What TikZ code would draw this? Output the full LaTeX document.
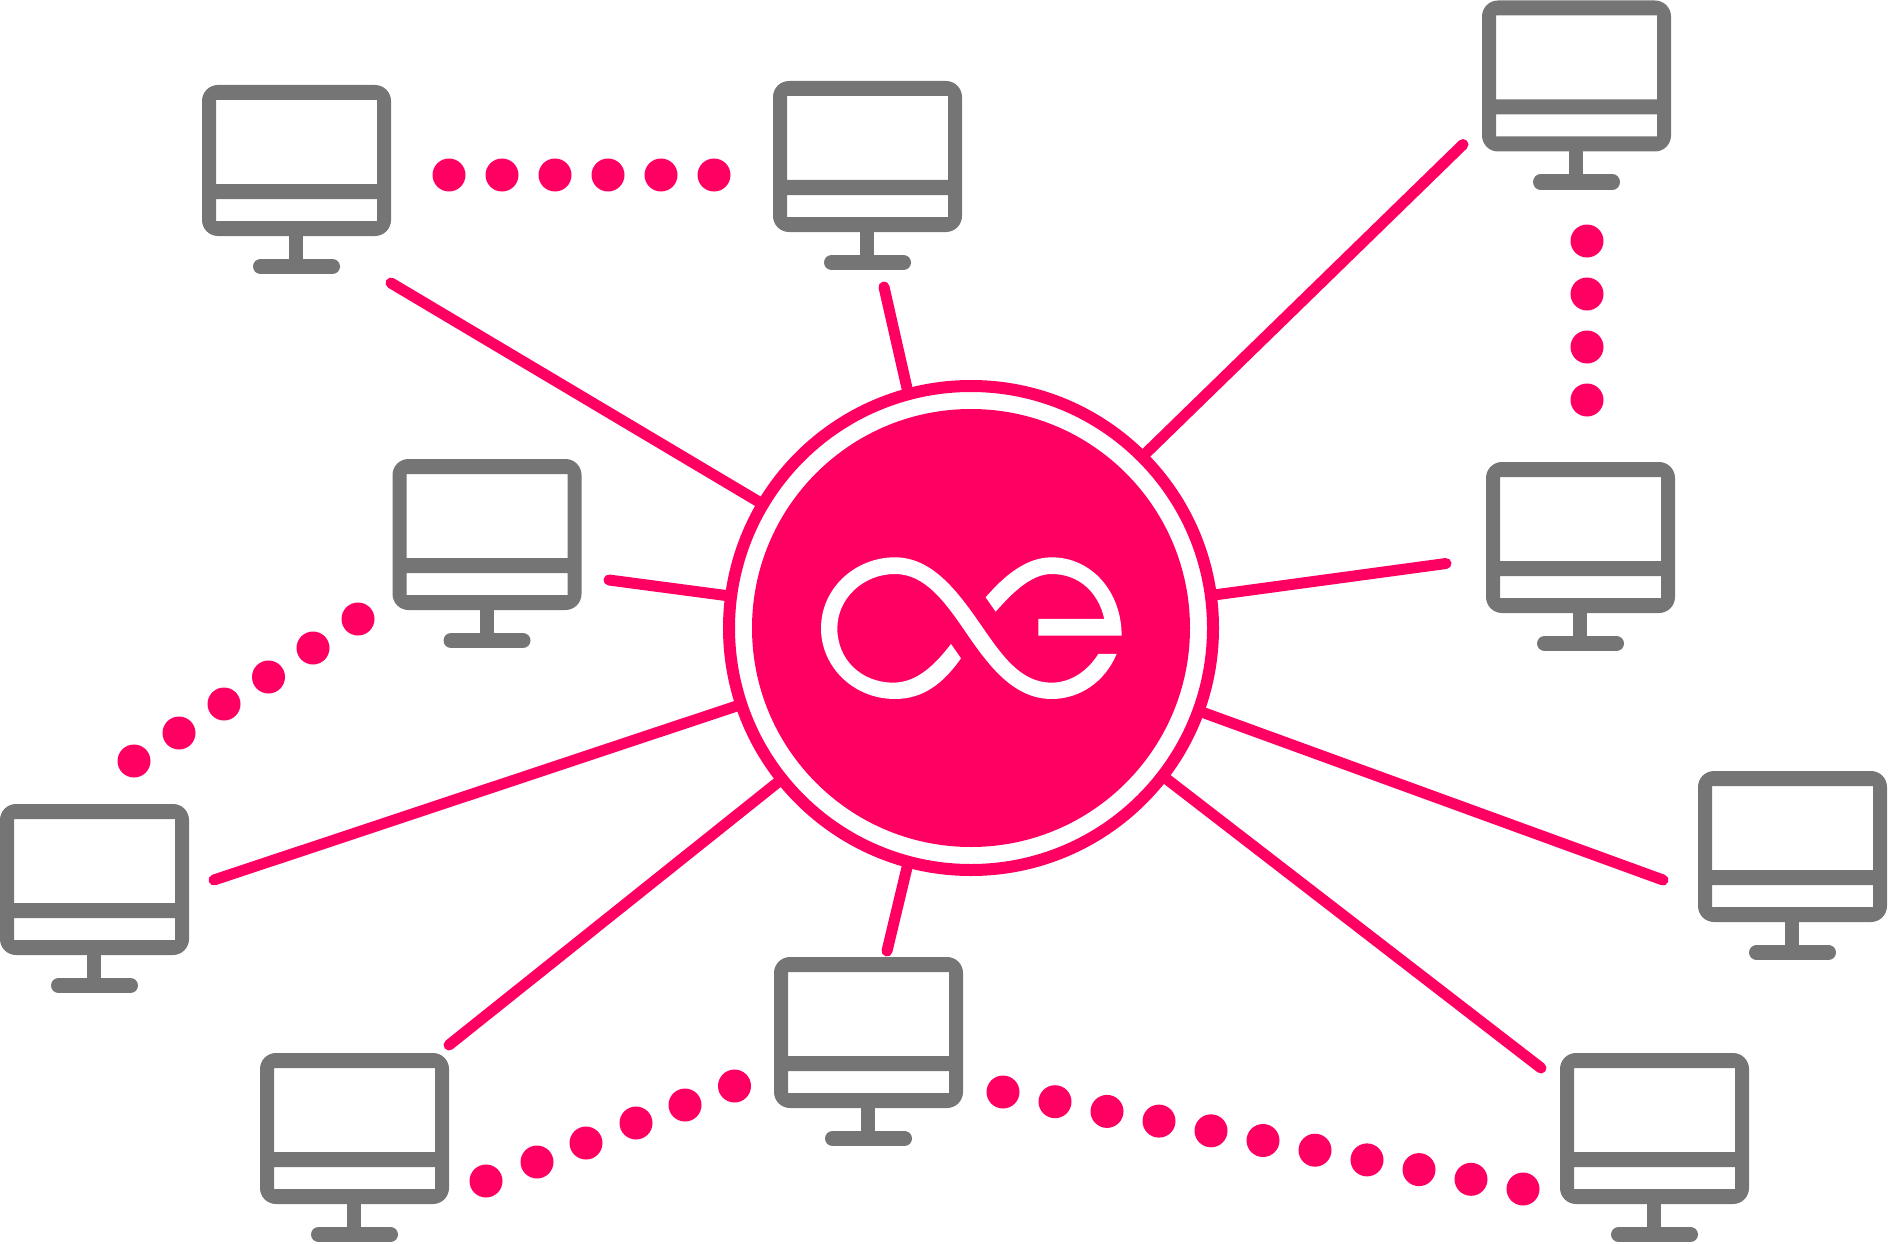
\documentclass[tikz,border=0pt]{standalone}
\usetikzlibrary{positioning}

\definecolor{aepink}{HTML}{FF0062}
\definecolor{aegray}{HTML}{757575}

\tikzset{
  monitor/.pic={
    \fill [aegray,even odd rule,rounded corners=16] (0,0) rectangle (189,151)
      [sharp corners] (14,15) rectangle (175,99) (14,114) rectangle (175,136);
    \fill [aegray] (87,150) rectangle (101,176);
    \draw [aegray,line width=15pt,line cap=round] (58.5,181.5) -- (130.5,181.5);
  },
  spoke/.style={aepink,line width=11pt,line cap=round},
  dotnode/.style={circle,fill=aepink,inner sep=0pt,minimum size=33pt},
  hub/.style={circle,draw=aepink,line width=12pt,fill=white,inner sep=0pt,outer sep=0pt,minimum size=484pt},
  hubcore/.style={circle,fill=aepink,inner sep=0pt,minimum size=438pt},
}

\begin{document}
\begin{tikzpicture}[x=1pt,y=-1pt]
\useasboundingbox (0,0) rectangle (1888,1244);

% monitors
\pic at (202,85) {monitor};
\pic at (773,81) {monitor};
\pic at (1482,0.5) {monitor};
\pic at (392.5,459) {monitor};
\pic at (1486,462) {monitor};
\pic at (1698,771) {monitor};
\pic at (0,804) {monitor};
\pic at (774,957) {monitor};
\pic at (260,1053) {monitor};
\pic at (1560,1053) {monitor};

% hub with spokes
\node [hub] (hub) at (971,628) {};
\coordinate (endA) at (391,283);
\coordinate (endB) at (884,287);
\coordinate (endC) at (1463,144.5);
\coordinate (endD) at (609,580);
\coordinate (endE) at (1446,563.5);
\coordinate (endF) at (1663,880);
\coordinate (endG) at (214,880);
\coordinate (endH) at (887,951);
\coordinate (endI) at (449,1045);
\coordinate (endJ) at (1541,1068);
\foreach \e in {A,D,E,F,G,I,J}
  \draw [spoke] (hub) -- (end\e);
\draw [spoke] (hub.105) -- (endB);
\draw [spoke] (hub.45) -- (endC);
\draw [spoke] (hub.255) -- (endH);
\node [hubcore] (core) at (hub) {};

% logo
\begin{scope}[shift={(780,520)},x=0.3333pt,y=-0.3333pt]
  \fill [white] (543,415) .. controls (490,490) and (430,537) .. (345,537)
    .. controls (220,537) and (123,440) .. (123,325)
    .. controls (123,205) and (225,112) .. (345,112)
    .. controls (455,112) and (530,210) .. (600,311)
    .. controls (665,405) and (720,488) .. (815,488)
    .. controls (875,488) and (925,450) .. (955,402)
    -- (1010,402)
    .. controls (975,485) and (900,537) .. (815,537)
    .. controls (700,537) and (625,435) .. (559,339)
    .. controls (495,245) and (435,162) .. (345,162)
    .. controls (250,162) and (172,235) .. (172,325)
    .. controls (172,420) and (245,488) .. (340,488)
    .. controls (410,488) and (465,435) .. (513,372) -- cycle;
  \fill [white] (617,232) .. controls (675,165) and (740,112) .. (815,112)
    .. controls (935,112) and (1025,215) .. (1025,347)
    -- (775,347) -- (775,297) -- (973,297)
    .. controls (955,215) and (895,162) .. (815,162)
    .. controls (755,162) and (700,215) .. (647,275) -- cycle;
\end{scope}

% dotted links
\foreach \i/\x in {1/449,2/502,3/555,4/608,5/661,6/714}
  \node [dotnode] (dotA\i) at (\x,175) {};
\foreach \i/\y in {1/241,2/294,3/347,4/400}
  \node [dotnode] (dotB\i) at (1587,\y) {};
\foreach \i/\x/\y in {1/134/761,2/179/733,3/224/704,4/268.5/677,5/313/648,6/358/619}
  \node [dotnode] (dotC\i) at (\x,\y) {};
\foreach \i/\x/\y in {1/486/1181,2/537/1162,3/586/1143,4/636/1123,5/685/1105,6/734.5/1086}
  \node [dotnode] (dotD\i) at (\x,\y) {};
\foreach \i in {0,...,10}
  \node [dotnode] (dotE\i) at ({1003+52*\i},{1092+9.7*\i}) {};
\end{tikzpicture}
\end{document}
